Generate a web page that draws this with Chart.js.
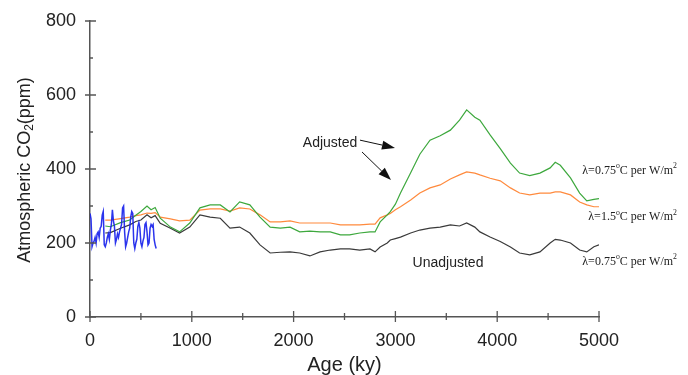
<!DOCTYPE html>
<html>
<head>
<meta charset="utf-8">
<script src="https://cdn.jsdelivr.net/npm/chart.js@4.4.1/dist/chart.umd.min.js"></script>
<style>
  html, body { margin: 0; padding: 0; background: #fff; }
</style>
</head>
<body>
<canvas id="co2Chart" width="688" height="375"></canvas>
<script>
// Age (ky) shared by the three model curves
const ages = [150, 200, 300, 390, 450, 500, 560, 600, 640, 690,
  790, 880, 980, 1080, 1180, 1280, 1375, 1470, 1570, 1670,
  1770, 1870, 1965, 2060, 2160, 2260, 2360, 2460, 2550, 2650,
  2750, 2800, 2850, 2920, 2950, 3000, 3050, 3150, 3240, 3340,
  3440, 3540, 3630, 3700, 3780, 3830, 3930, 4030, 4130, 4220,
  4320, 4420, 4520, 4570, 4620, 4720, 4810, 4880, 4950, 5000];

// Adjusted, lambda = 0.75 (green)
const adjusted075 = [246, 244, 255, 262, 275, 285, 300, 290, 296, 267,
  243, 230, 254, 295, 303, 303, 284, 311, 303, 270,
  243, 240, 243, 230, 232, 230, 230, 222, 222, 227,
  230, 230, 257, 276, 285, 305, 335, 390, 440, 478,
  490, 505, 532, 560, 540, 532, 492, 455, 416, 389,
  382, 389, 403, 418, 410, 376, 335, 314, 318, 320];

// Adjusted, lambda = 1.5 (orange)
const adjusted15 = [262, 262, 266, 270, 274, 276, 281, 280, 282, 270,
  265, 260, 262, 289, 292, 292, 286, 295, 292, 276,
  257, 257, 260, 254, 254, 254, 254, 249, 249, 249,
  251, 251, 268, 276, 280, 290, 298, 316, 335, 349,
  357, 373, 384, 392, 389, 384, 375, 368, 349, 335,
  330, 335, 335, 338, 338, 330, 311, 303, 298, 298];

// Unadjusted, lambda = 0.75 (black)
const unadjusted075 = [227, 228, 240, 249, 258, 262, 276, 268, 274, 253,
  240, 227, 243, 276, 270, 267, 240, 243, 227, 195,
  173, 175, 176, 173, 165, 176, 181, 184, 184, 181,
  184, 176, 189, 200, 208, 212, 216, 227, 235, 240,
  243, 249, 246, 254, 243, 230, 216, 204, 189, 173,
  168, 176, 200, 210, 208, 200, 181, 176, 190, 195];

// Ice core record (blue)
const iceAges = [0, 10, 20, 30, 40, 50, 60, 70, 80, 90,
  100, 110, 120, 130, 140, 150, 160, 170, 180, 190,
  200, 210, 220, 230, 240, 250, 260, 270, 280, 290,
  300, 310, 320, 330, 340, 350, 360, 370, 380, 390,
  400, 410, 420, 430, 440, 450, 460, 470, 480, 490,
  500, 510, 520, 530, 540, 550, 560, 570, 580, 590,
  600, 610, 620, 630, 640, 650];
const iceCO2 = [280, 265, 190, 200, 205, 215, 200, 225, 230, 215,
  240, 245, 275, 285, 195, 190, 200, 215, 225, 210,
  235, 250, 290, 260, 245, 200, 210, 225, 215, 230,
  240, 250, 295, 300, 230, 190, 200, 215, 230, 240,
  270, 285, 280, 200, 185, 200, 210, 245, 255, 240,
  200, 190, 205, 215, 250, 255, 230, 195, 200, 240,
  250, 245, 250, 210, 195, 185];

const xMajor = [0, 1000, 2000, 3000, 4000, 5000];
const xMinor = [500, 1500, 2500, 3500, 4500];
const yMajor = [0, 200, 400, 600, 800];
const yMinor = [100, 300, 500, 700];

const SANS = '"Liberation Sans", Arial, sans-serif';
const SERIF = '"Liberation Serif", "Times New Roman", serif';
const INK = '#222';

function toPoints(xs, ys) {
  return xs.map((x, i) => ({ x: x, y: ys[i] }));
}

// superscript-aware text, right aligned at xr
function drawParts(ctx, parts, xr, y, size) {
  let total = 0;
  parts.forEach(p => {
    ctx.font = (p.sup ? size * 0.65 : size) + 'px ' + SERIF;
    p.w = ctx.measureText(p.t).width;
    total += p.w;
  });
  let x = xr - total;
  parts.forEach(p => {
    ctx.font = (p.sup ? size * 0.65 : size) + 'px ' + SERIF;
    ctx.fillText(p.t, x, p.sup ? y - size * 0.38 : y);
    x += p.w;
  });
}

function arrow(ctx, x1, y1, x2, y2) {
  const a = Math.atan2(y2 - y1, x2 - x1);
  const len = 13, half = 4.5;
  ctx.beginPath();
  ctx.moveTo(x1, y1);
  ctx.lineTo(x2 - len * Math.cos(a), y2 - len * Math.sin(a));
  ctx.stroke();
  ctx.beginPath();
  ctx.moveTo(x2, y2);
  ctx.lineTo(x2 - len * Math.cos(a) + half * Math.sin(a), y2 - len * Math.sin(a) - half * Math.cos(a));
  ctx.lineTo(x2 - len * Math.cos(a) - half * Math.sin(a), y2 - len * Math.sin(a) + half * Math.cos(a));
  ctx.closePath();
  ctx.fill();
}

const decorPlugin = {
  id: 'decor',
  afterDraw(chart) {
    const ctx = chart.ctx;
    const xs = chart.scales.x, ys = chart.scales.y;
    const x0 = xs.getPixelForValue(0), y0 = ys.getPixelForValue(0);
    ctx.save();
    ctx.strokeStyle = '#555';
    ctx.lineWidth = 1.3;
    // tick marks
    ctx.beginPath();
    xMajor.forEach(v => { const p = xs.getPixelForValue(v); ctx.moveTo(p, y0 - 6); ctx.lineTo(p, y0 + 5); });
    xMinor.forEach(v => { const p = xs.getPixelForValue(v); ctx.moveTo(p, y0 - 4); ctx.lineTo(p, y0 + 3); });
    yMajor.forEach(v => { const p = ys.getPixelForValue(v); ctx.moveTo(x0 - 5, p); ctx.lineTo(x0 + 6, p); });
    yMinor.forEach(v => { const p = ys.getPixelForValue(v); ctx.moveTo(x0, p); ctx.lineTo(x0 + 3, p); });
    ctx.stroke();

    ctx.fillStyle = INK;
    // x title
    ctx.font = '20px ' + SANS;
    ctx.textAlign = 'center';
    ctx.textBaseline = 'middle';
    ctx.fillText('Age (ky)', (xs.left + xs.right) / 2, 365);

    // y title with subscript
    ctx.save();
    ctx.translate(25, (ys.top + ys.bottom) / 2 + 1);
    ctx.rotate(-Math.PI / 2);
    ctx.textAlign = 'left';
    ctx.textBaseline = 'middle';
    const big = '18px ' + SANS, small = '12px ' + SANS;
    ctx.font = big;
    const w1 = ctx.measureText('Atmospheric CO').width;
    const w3 = ctx.measureText('(ppm)').width;
    ctx.font = small;
    const w2 = ctx.measureText('2').width;
    let sx = -(w1 + w2 + w3) / 2;
    ctx.font = big; ctx.fillText('Atmospheric CO', sx, 0); sx += w1;
    ctx.font = small; ctx.fillText('2', sx, 5); sx += w2;
    ctx.font = big; ctx.fillText('(ppm)', sx, 0);
    ctx.restore();

    // annotations
    const px = v => xs.getPixelForValue(v);
    const py = v => ys.getPixelForValue(v);
    ctx.font = '14px ' + SANS;
    ctx.textAlign = 'center';
    ctx.fillText('Adjusted', px(2358), py(470));
    ctx.fillText('Unadjusted', px(3517), py(146));

    ctx.strokeStyle = '#111';
    ctx.fillStyle = '#111';
    ctx.lineWidth = 1;
    arrow(ctx, px(2652), py(478), px(2996), py(457));
    arrow(ctx, px(2672), py(446), px(2957), py(370));

    ctx.fillStyle = INK;
    ctx.textAlign = 'left';
    ctx.textBaseline = 'middle';
    const xr = 677;
    drawParts(ctx, [{ t: '\u03bb=0.75' }, { t: 'o', sup: true }, { t: 'C per W/m' }, { t: '2', sup: true }], xr, py(395), 12);
    drawParts(ctx, [{ t: '\u03bb=1.5' }, { t: 'o', sup: true }, { t: 'C per W/m' }, { t: '2', sup: true }], xr, py(270), 12);
    drawParts(ctx, [{ t: '\u03bb=0.75' }, { t: 'o', sup: true }, { t: 'C per W/m' }, { t: '2', sup: true }], xr, py(149), 12);
    ctx.restore();
  }
};

const lineStyle = { pointRadius: 0, borderWidth: 1.2, tension: 0, fill: false };

new Chart(document.getElementById('co2Chart').getContext('2d'), {
  type: 'line',
  data: {
    datasets: [
      Object.assign({ label: 'Ice core', data: toPoints(iceAges, iceCO2), borderColor: 'rgba(20,30,235,0.9)', borderWidth: 1.5 }, { pointRadius: 0, tension: 0, fill: false }),
      Object.assign({ label: 'Adjusted 0.75', data: toPoints(ages, adjusted075), borderColor: '#3da83d' }, lineStyle),
      Object.assign({ label: 'Adjusted 1.5', data: toPoints(ages, adjusted15), borderColor: '#ff8a3d' }, lineStyle),
      Object.assign({ label: 'Unadjusted 0.75', data: toPoints(ages, unadjusted075), borderColor: '#3a3a3a' }, lineStyle)
    ]
  },
  options: {
    responsive: false,
    animation: false,
    devicePixelRatio: 1,
    layout: { padding: { left: 0, top: 21, right: 89, bottom: 0 } },
    plugins: { legend: { display: false }, tooltip: { enabled: false } },
    scales: {
      x: {
        type: 'linear', min: 0, max: 5000,
        afterBuildTicks: s => { s.ticks = xMajor.map(v => ({ value: v })); },
        afterFit: s => { s.height = 58; },
        grid: { display: false },
        border: { display: true, color: '#555', width: 1.5 },
        ticks: { color: INK, font: { family: SANS, size: 18 }, padding: 5, maxRotation: 0,
          callback: v => String(v) }
      },
      y: {
        type: 'linear', min: 0, max: 800,
        afterBuildTicks: s => { s.ticks = yMajor.map(v => ({ value: v })); },
        afterFit: s => { s.width = 90; },
        grid: { display: false },
        border: { display: true, color: '#555', width: 1.5 },
        ticks: { color: INK, font: { family: SANS, size: 18 }, padding: 6,
          callback: v => String(v) }
      }
    }
  },
  plugins: [decorPlugin]
});
</script>
</body>
</html>
